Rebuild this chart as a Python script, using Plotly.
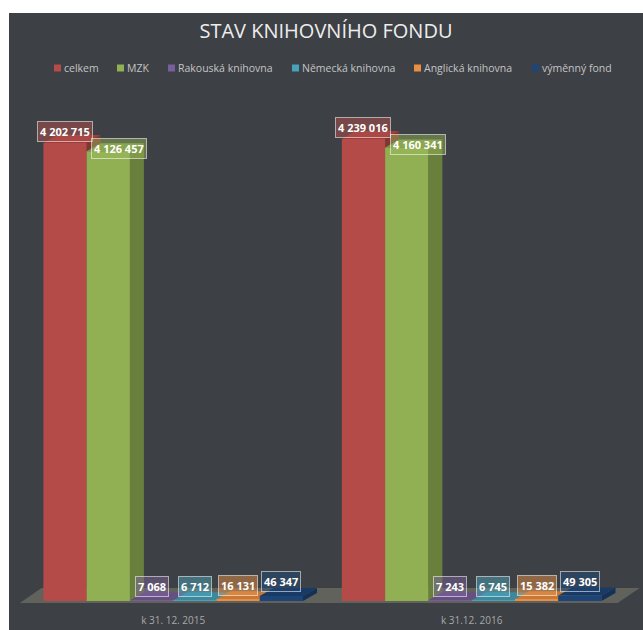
import plotly.graph_objects as go

# ---------------- data ----------------
categories = ["k 31. 12. 2015", "k 31.12. 2016"]
series_names = ["celkem", "MZK", "Rakouská knihovna", "Německá knihovna",
                "Anglická knihovna", "výměnný fond"]
celkem = [4202715, 4239016]
mzk = [4126457, 4160341]
rakouska = [7068, 7243]
nemecka = [6712, 6745]
anglicka = [16131, 15382]
vymenny = [46347, 49305]
values = [celkem, mzk, rakouska, nemecka, anglicka, vymenny]

# ---------------- style ----------------
base_rgb = [(192, 80, 77), (155, 187, 89), (128, 100, 162),
            (75, 172, 198), (247, 150, 70), (31, 73, 125)]
BG = "#3d4044"
FONT = "Open Sans, sans-serif"

def shade(rgb, f, a=1.0):
    r, g, b = (max(0, min(255, int(c * f))) for c in rgb)
    return f"rgba({r},{g},{b},{a})"

W, H = 643, 630
L, R, T, B = 15, 3, 80, 24
XR = [-0.53, 1.564]
YR = [-46000, 4780000]
plotW = W - L - R
plotH = H - T - B
px_x = plotW / (XR[1] - XR[0])
px_y = plotH / (YR[1] - YR[0])
DX = 14 / px_x          # 3D depth offset (x units)
DY = 8 / px_y           # 3D depth offset (y units)

def pxx(p):  # page pixel x -> paper
    return (p - L) / plotW

def pxy(p):  # page pixel y -> paper
    return (H - B - p) / plotH

n = len(values)
group_w = 0.87
bw = group_w / n

fig = go.Figure()
for i, (name, vals) in enumerate(zip(series_names, values)):
    fig.add_trace(go.Bar(
        x=categories, y=vals, name=name,
        marker=dict(color=shade(base_rgb[i], 0.94), line=dict(width=0)),
        showlegend=False, hoverinfo="x+y+name",
    ))

shapes = []
# floor (decorative)
shapes.append(dict(type="path", xref="x", yref="y", layer="below",
                   path=f"M -0.514,{-2/px_y} L 1.489,{-2/px_y} L 1.563,{13/px_y} L -0.441,{13/px_y} Z",
                   fillcolor="rgba(110,110,100,0.75)", line=dict(width=0)))
side_shapes, top_shapes = [], []
annotations = []
label_shift = {0: (0, 11), 1: (11, 3)}
for i, vals in enumerate(values):
    for j, v in enumerate(vals):
        x0 = j - group_w / 2 + i * bw
        x1 = x0 + bw
        side_shapes.append(dict(
            type="path", xref="x", yref="y", layer="below",
            path=f"M {x1},0 L {x1},{v} L {x1+DX},{v+DY} L {x1+DX},{DY} Z",
            fillcolor=shade(base_rgb[i], 0.68), line=dict(width=0)))
        top_shapes.append(dict(
            type="path", xref="x", yref="y", layer="below",
            path=f"M {x0},{v} L {x1},{v} L {x1+DX},{v+DY} L {x0+DX},{v+DY} Z",
            fillcolor=shade(base_rgb[i], 0.8), line=dict(width=0)))
        xs, ys = label_shift.get(i, (0, 14))
        annotations.append(dict(
            x=(x0 + x1) / 2, y=v, xref="x", yref="y",
            text=f"{v:,}".replace(",", " "), showarrow=False,
            xshift=xs, yshift=ys, yanchor="middle",
            font=dict(family=FONT, size=11, color="white", weight="bold"),
            bgcolor=shade(base_rgb[i], 1.0, 0.45),
            bordercolor="rgba(255,255,255,0.55)", borderwidth=1, borderpad=2,
        ))
shapes += side_shapes + top_shapes

# white outer strips (top and left edge of the original image)
shapes.append(dict(type="rect", xref="paper", yref="paper", layer="above",
                   x0=pxx(-2), x1=pxx(9), y0=pxy(632), y1=pxy(-2),
                   fillcolor="white", line=dict(width=0)))
shapes.append(dict(type="rect", xref="paper", yref="paper", layer="above",
                   x0=pxx(-2), x1=pxx(645), y0=pxy(13), y1=pxy(-2),
                   fillcolor="white", line=dict(width=0)))

# legend drawn as small squares + text annotations
legend_x = [54, 117, 168, 292, 414, 532]
for i, name in enumerate(series_names):
    shapes.append(dict(type="rect", xref="paper", yref="paper", layer="above",
                       x0=pxx(legend_x[i]), x1=pxx(legend_x[i] + 7),
                       y0=pxy(71.5), y1=pxy(64.5),
                       fillcolor=shade(base_rgb[i], 0.95), line=dict(width=0)))
    annotations.append(dict(
        x=pxx(legend_x[i] + 8), y=pxy(68), xref="paper", yref="paper",
        xanchor="left", yanchor="middle", showarrow=False,
        text=name,
        font=dict(family=FONT, size=10.5, color="#c4c4c4"),
    ))

fig.update_layout(
    width=W, height=H,
    margin=dict(l=L, r=R, t=T, b=B),
    paper_bgcolor=BG, plot_bgcolor="rgba(0,0,0,0)",
    barmode="group", bargap=1 - group_w, bargroupgap=0,
    title=dict(text="STAV KNIHOVNÍHO FONDU", x=326 / W, xanchor="center",
               y=1 - 31 / H, yanchor="middle",
               font=dict(family=FONT, size=20, color="#ededed")),
    xaxis=dict(range=XR, showgrid=False, zeroline=False, showline=False,
               ticks="", tickfont=dict(family=FONT, size=10, color="#a8a8a8"),
               ticklabelstandoff=7),
    yaxis=dict(range=YR, visible=False, showgrid=False, zeroline=False),
    shapes=shapes, annotations=annotations, showlegend=False,
)

fig.write_html(
    "out.html",
    config={"displayModeBar": False},
    post_script="document.body.style.margin='0';document.body.style.overflow='hidden';",
)
